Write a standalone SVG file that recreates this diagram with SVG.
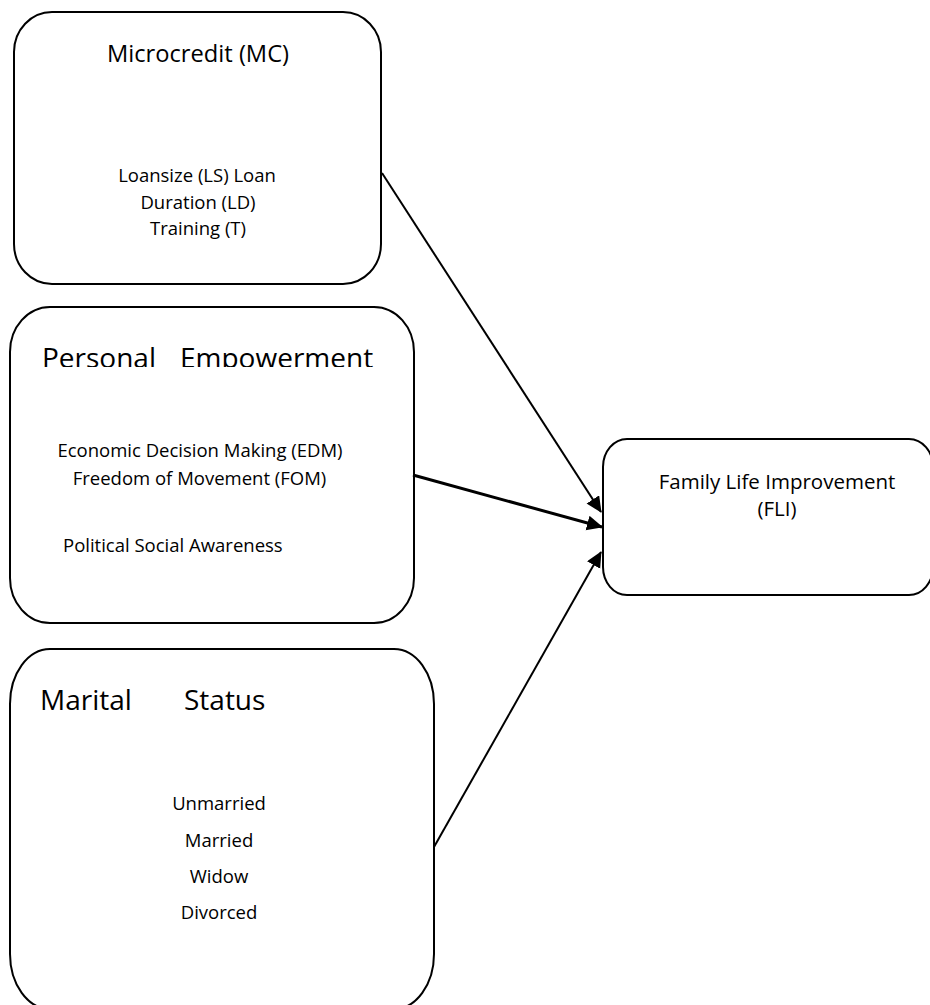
<svg xmlns="http://www.w3.org/2000/svg" width="930" height="1005" viewBox="0 0 930 1005">
<style>
.box{fill:#fff;stroke:#000;stroke-width:2}
.t{font-family:"Open Sans","Liberation Sans",sans-serif;fill:#000}
.title{font-size:28px}
.mc{font-size:23.7px}
.item{font-size:18.5px}
.fli{font-size:20.5px}
.c{text-anchor:middle}
.conn{fill:none;stroke:#000;stroke-width:2}
</style>
<defs>
<marker id="ah" markerUnits="userSpaceOnUse" markerWidth="18" markerHeight="18" refX="15" refY="7.5" orient="auto">
<path d="M0,0 L16,7.5 L0,15 Z" fill="#000"/>
</marker>
<clipPath id="peclip"><rect x="0" y="300" width="430" height="67"/></clipPath>
</defs>
<rect width="930" height="1005" fill="#fff"/>
<g id="mc">
<rect class="box" x="14" y="12" width="367" height="272" rx="38" ry="40"/>
<text class="t mc c" x="198" y="62">Microcredit (MC)</text>
<text class="t item c" x="197" y="182">Loansize (LS) Loan</text>
<text class="t item c" x="198" y="209">Duration (LD)</text>
<text class="t item c" x="198" y="235">Training (T)</text>
</g>
<g id="pe">
<rect class="box" x="10" y="307" width="404" height="316" rx="40" ry="45"/>
<text class="t title" y="368" clip-path="url(#peclip)"><tspan x="42">Personal</tspan><tspan x="180">Empowerment</tspan></text>
<text class="t item c" x="200" y="457">Economic Decision Making (EDM)</text>
<text class="t item c" x="199.5" y="485">Freedom of Movement (FOM)</text>
<text class="t item" x="63" y="552">Political Social Awareness</text>
</g>
<g id="ms">
<rect class="box" x="10" y="649" width="424" height="360" rx="40" ry="55"/>
<text class="t title" y="710"><tspan x="40">Marital</tspan><tspan x="184">Status</tspan></text>
<text class="t item c" x="219" y="810">Unmarried</text>
<text class="t item c" x="219" y="847">Married</text>
<text class="t item c" x="219" y="883">Widow</text>
<text class="t item c" x="219" y="919">Divorced</text>
</g>
<g id="fli">
<rect class="box" x="603" y="439" width="330" height="156" rx="24" ry="28"/>
<text class="t fli c" y="489"><tspan x="777">Family Life Improvement</tspan><tspan x="777" dy="27">(FLI)</tspan></text>
</g>
<g id="connectors">
<path class="conn" d="M382,173 L601,512" marker-end="url(#ah)"/>
<path class="conn" d="M413,475 L602,527" style="stroke-width:3" marker-end="url(#ah)"/>
<path class="conn" d="M434,847 L601,552" marker-end="url(#ah)"/>
</g>
</svg>
